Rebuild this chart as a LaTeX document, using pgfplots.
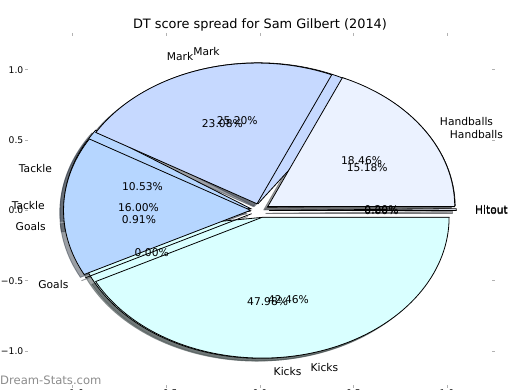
\documentclass[border=0pt]{standalone}
\usepackage{pgfplots}
\pgfplotsset{compat=1.18}
\usepackage{fontspec}
\setmainfont{DejaVu Sans}
\definecolor{cHit}{HTML}{F0F4FF}
\definecolor{cHand}{HTML}{EBF2FF}
\definecolor{cMark}{HTML}{C6D9FF}
\definecolor{cTack}{HTML}{B6D6FF}
\definecolor{cGoal}{HTML}{E0EEFF}
\definecolor{cKick}{HTML}{D9FFFF}
% percentages of each category (counter-clockwise from 0 deg)
\def\pieA{0.20/cHit/Hitout,15.18/cHand/Handballs,25.20/cMark/Mark,10.53/cTack/Tackle,0.91/cGoal/Goals,47.98/cKick/Kicks}
\def\pieB{0.00/cHit/Hitout,18.46/cHand/Handballs,23.08/cMark/Mark,16.00/cTack/Tackle,0.00/cGoal/Goals,42.46/cKick/Kicks}
\newcommand\lblfont{\fontsize{10.7}{12}\selectfont}
% #1 list, #2 mode: 0 shadow, 1 wedge, 2 texts
\newcommand\drawpie[2]{%
  \gdef\cum{0}%
  \foreach \v/\c/\n in #1 {%
    \pgfmathsetmacro\aS{\cum*3.6}%
    \pgfmathsetmacro\aE{(\cum+\v)*3.6}%
    \pgfmathsetmacro\aM{(\aS+\aE)/2}%
    \pgfmathsetmacro\dx{0.05*cos(\aM)}%
    \pgfmathsetmacro\dy{0.05*sin(\aM)}%
    \pgfmathsetmacro\px{\dx+cos(\aS)}%
    \pgfmathsetmacro\py{\dy+sin(\aS)}%
    \ifnum#2=0
      \pgfmathsetmacro\sx{\dx-0.02}\pgfmathsetmacro\sy{\dy-0.02}%
      \pgfmathsetmacro\spx{\px-0.02}\pgfmathsetmacro\spy{\py-0.02}%
      \edef\tmp{\noexpand\filldraw[fill=\c!30!black,draw=\c!30!black,opacity=0.5,line width=0.9pt] (axis cs:\sx,\sy) -- (axis cs:\spx,\spy) arc[start angle=\aS, end angle=\aE, radius=1] -- cycle;}%
    \fi
    \ifnum#2=1
      \edef\tmp{\noexpand\filldraw[fill=\c,draw=black,line width=0.8pt,line join=miter] (axis cs:\dx,\dy) -- (axis cs:\px,\py) arc[start angle=\aS, end angle=\aE, radius=1] -- cycle;}%
    \fi
    \ifnum#2=2
      \pgfmathsetmacro\tx{0.65*cos(\aM)}%
      \pgfmathsetmacro\ty{0.65*sin(\aM)}%
      \pgfmathsetmacro\lx{1.15*cos(\aM)}%
      \pgfmathsetmacro\ly{1.15*sin(\aM)}%
      \ifdim\lx pt>0pt \def\anc{west}\else\def\anc{east}\fi
      \edef\tmp{\noexpand\node[inner sep=0pt,font=\noexpand\lblfont] at (axis cs:\tx,\ty) {\v\noexpand\%};
        \noexpand\node[inner sep=0pt,anchor=\anc,font=\noexpand\lblfont] at (axis cs:\lx,\ly) {\n};}%
    \fi
    \tmp
    \pgfmathsetmacro\newcum{\cum+\v}\xdef\cum{\newcum}%
  }}
\begin{document}
\begin{tikzpicture}
\begin{axis}[
  at={(28pt,5pt)}, anchor=south west,
  scale only axis, width=463.8pt, height=349pt,
  xmin=-1.24, xmax=1.24, ymin=-1.24, ymax=1.24,
  axis line style={draw=none},
  xtick={-1,-0.5,0,0.5,1}, ytick={-1,-0.5,0,0.5,1},
  xticklabels={−1.0,−0.5,0.0,0.5,1.0},
  yticklabels={−1.0,−0.5,0.0,0.5,1.0},
  tick style={color=black!30, line width=0.8pt},
  major tick length=3pt, tick align=outside,
  xtick pos=both, ytick pos=both,
  xticklabel pos=lower, yticklabel pos=left,
  tick label style={font=\fontsize{9.2}{10}\selectfont, inner sep=1.5pt},
  clip=false,
]
\drawpie{\pieA}{0}
\drawpie{\pieB}{0}
\drawpie{\pieA}{1}
\drawpie{\pieB}{1}
\drawpie{\pieA}{2}
\drawpie{\pieB}{2}
\end{axis}
\node[font=\fontsize{12.9}{14}\selectfont] at (260pt,365pt) {DT score spread for Sam Gilbert (2014)};
\node[anchor=west, inner sep=0pt, text=black!45, font=\fontsize{11.6}{13}\selectfont] at (0pt,10pt) {Dream-Stats.com};
\pgfresetboundingbox
\useasboundingbox (0,0) rectangle (520pt,390pt);
\end{tikzpicture}
\end{document}
